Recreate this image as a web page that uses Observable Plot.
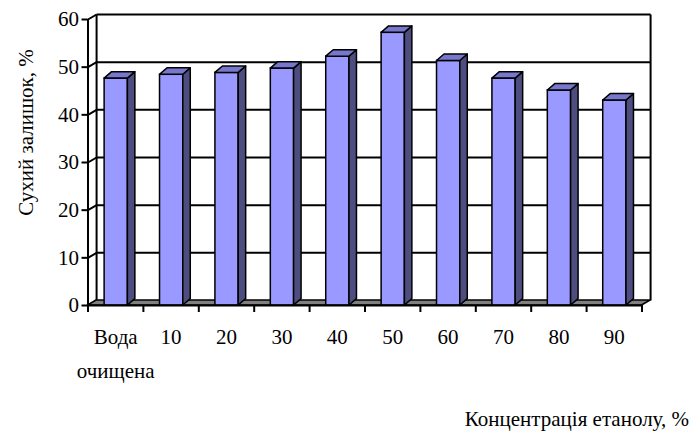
<!DOCTYPE html>
<html>
<head>
<meta charset="utf-8">
<script src="https://cdn.jsdelivr.net/npm/d3@7"></script>
<script src="https://cdn.jsdelivr.net/npm/@observablehq/plot@0.6"></script>
<style>
  html, body { margin: 0; padding: 0; background: #fff; }
  #chart svg { display: block; }
</style>
</head>
<body>
<div id="chart"></div>
<script>
// ---- data ----
const categories = ["Вода\nочищена", "10", "20", "30", "40", "50", "60", "70", "80", "90"];
const values = [47.6, 48.4, 48.8, 49.7, 52.2, 57.2, 51.3, 47.6, 45.1, 43.0];
const yTicks = [0, 10, 20, 30, 40, 50, 60];
const yLabel = "Сухий залишок, %";
const xLabel = "Концентрація етанолу, %";

// ---- 3D depth constants (in scale units) ----
const WDX = 0.155, WDY = 1.05;   // wall / floor depth
const BDX = 0.135, BDY = 1.35;   // bar depth
const BX1 = 0.30, BX2 = 0.72;    // bar front face within band
const N = categories.length;
const YMAX = 60;

const font = "Liberation Serif";
const fs = 21;

const bars = values.map((v, i) => ({i, v, x1: i + BX1, x2: i + BX2}));
const sidePts = bars.flatMap(b => [
  {z: b.i, x: b.x2, y1: 0, y2: b.v},
  {z: b.i, x: b.x2 + BDX, y1: BDY, y2: b.v + BDY}
]);
const topPts = bars.flatMap(b => [
  {z: b.i, x: b.x1, y1: b.v, y2: b.v},
  {z: b.i, x: b.x1 + BDX, y1: b.v, y2: b.v + BDY},
  {z: b.i, x: b.x2, y1: b.v, y2: b.v + BDY},
  {z: b.i, x: b.x2 + BDX, y1: b.v + BDY, y2: b.v + BDY}
]);
const floorPts = [
  {x: 0, y1: 0, y2: 0},
  {x: WDX, y1: 0, y2: WDY},
  {x: N, y1: 0, y2: WDY},
  {x: N + WDX, y1: WDY, y2: WDY}
];
const gridBack = yTicks.filter(t => t > 0).map(t => ({t}));
const bandEdges = d3.range(N + 1);

const chart = Plot.plot({
  width: 690,
  height: 436,
  marginLeft: 87.5,
  marginRight: 48.5,
  marginTop: 19,
  marginBottom: 131,
  style: {background: "#fff"},
  x: {type: "linear", domain: [0, N], axis: null},
  y: {type: "linear", domain: [0, YMAX], axis: null},
  marks: [
    // back wall gridlines
    Plot.link(gridBack, {x1: WDX, x2: N + WDX, y1: d => d.t + WDY, y2: d => d.t + WDY, stroke: "#000", strokeWidth: 2}),
    // left wall diagonals
    Plot.link(gridBack, {x1: 0, x2: WDX, y1: d => d.t, y2: d => d.t + WDY, stroke: "#000", strokeWidth: 2}),
    // back wall left and right edges
    Plot.link([0, N], {x1: d => d + WDX, x2: d => d + WDX, y1: WDY, y2: YMAX + WDY, stroke: "#000", strokeWidth: 2}),
    // floor
    Plot.areaY(floorPts, {x: "x", y1: "y1", y2: "y2", fill: "#808080", stroke: "#000", strokeWidth: 1.5, strokeLinejoin: "round"}),
    // bars: front faces
    Plot.rect(bars, {x1: "x1", x2: "x2", y1: 0, y2: "v", fill: "#9999FF", stroke: "#000", strokeWidth: 1.5}),
    // side faces
    Plot.areaY(sidePts, {x: "x", y1: "y1", y2: "y2", z: "z", fill: "#4D4D80", stroke: "#000", strokeWidth: 1.5, strokeLinejoin: "round"}),
    // top faces
    Plot.areaY(topPts, {x: "x", y1: "y1", y2: "y2", z: "z", fill: "#7777CC", stroke: "#000", strokeWidth: 1.5, strokeLinejoin: "round"}),
    // front y axis line
    Plot.ruleX([0], {y1: 0, y2: YMAX, stroke: "#000", strokeWidth: 2}),
    // front x axis line
    Plot.ruleY([0], {x1: 0, x2: N, stroke: "#000", strokeWidth: 2}),
    // y tick marks
    Plot.axisY(yTicks, {anchor: "left", tickSize: 6, tickFormat: () => "", stroke: "#000", strokeWidth: 2, label: null}),
    // y tick labels
    Plot.text(yTicks, {x: 0, y: d => d, text: d => String(d), textAnchor: "end", dx: -9, fontSize: fs, fontFamily: font, fill: "#000"}),
    // x tick marks at band edges
    Plot.axisX(bandEdges, {anchor: "bottom", tickSize: 7, tickFormat: () => "", stroke: "#000", strokeWidth: 2, label: null}),
    // x tick labels (centered in bands)
    Plot.text(categories, {x: (d, i) => i + 0.5, y: 0, text: d => d, lineAnchor: "top", lineHeight: 1.6, dy: 15, fontSize: fs, fontFamily: font, fill: "#000"}),
    // y axis title
    Plot.text([yLabel], {frameAnchor: "left", text: d => d, rotate: -90, textAnchor: "middle", dx: -62, dy: -30, fontSize: fs, fontFamily: font, fill: "#000"}),
    // x axis title
    Plot.text([xLabel], {frameAnchor: "bottom-right", text: d => d, textAnchor: "end", dx: 47, dy: 120, fontSize: fs, fontFamily: font, fill: "#000"})
  ]
});

document.getElementById("chart").appendChild(chart);
</script>
</body>
</html>
